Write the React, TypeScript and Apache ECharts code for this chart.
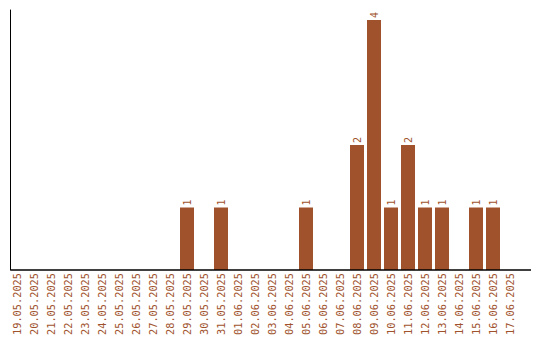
import React, { useEffect, useRef } from "react";
import * as echarts from "echarts";

const categories: string[] = [
  "19.05.2025", "20.05.2025", "21.05.2025", "22.05.2025", "23.05.2025",
  "24.05.2025", "25.05.2025", "26.05.2025", "27.05.2025", "28.05.2025",
  "29.05.2025", "30.05.2025", "31.05.2025", "01.06.2025", "02.06.2025",
  "03.06.2025", "04.06.2025", "05.06.2025", "06.06.2025", "07.06.2025",
  "08.06.2025", "09.06.2025", "10.06.2025", "11.06.2025", "12.06.2025",
  "13.06.2025", "14.06.2025", "15.06.2025", "16.06.2025", "17.06.2025",
];

const counts: number[] = [
  0, 0, 0, 0, 0,
  0, 0, 0, 0, 0,
  1, 0, 1, 0, 0,
  0, 0, 1, 0, 0,
  2, 4, 1, 2, 1,
  1, 0, 1, 1, 0,
];

const COLOR = "#A0522D";
const FONT = "DejaVu Sans Mono";

export default function App() {
  const ref = useRef<HTMLDivElement>(null);
  useEffect(() => {
    if (!ref.current) return;
    const chart = echarts.init(ref.current, undefined, { renderer: "svg" });
    chart.setOption({
      animation: false,
      backgroundColor: "#ffffff",
      grid: { left: 8.5, right: 21.5, top: 10, bottom: 70, containLabel: false },
      xAxis: {
        type: "category",
        data: categories,
        boundaryGap: true,
        axisLine: { show: false },
        axisTick: { show: false },
        axisLabel: {
          interval: 0,
          rotate: 90,
          margin: 3,
          color: COLOR,
          fontFamily: FONT,
          fontSize: 10.3,
        },
      },
      yAxis: {
        type: "value",
        min: 0,
        max: 4.16,
        offset: -2,
        splitLine: { show: false },
        axisLabel: { show: false },
        axisTick: { show: false },
        axisLine: { show: true, lineStyle: { color: "#000", width: 1 } },
      },
      graphic: [
        {
          type: "line",
          shape: { x1: 10.5, y1: 270, x2: 531, y2: 270 },
          style: { stroke: "#000", lineWidth: 1.5 },
          z: 10,
        },
      ],
      series: [
        {
          type: "bar",
          data: counts,
          barWidth: 14,
          itemStyle: { color: COLOR },
          label: {
            show: true,
            position: "top",
            rotate: 90,
            align: "left",
            verticalAlign: "middle",
            distance: 2,
            color: COLOR,
            fontFamily: FONT,
            fontSize: 10,
            formatter: (p: any) => (p.value ? String(p.value) : ""),
          },
        },
      ],
    });
    return () => chart.dispose();
  }, []);
  return (
    <div
      ref={ref}
      style={{ position: "fixed", left: 0, top: 0, width: 540, height: 340 }}
    />
  );
}
